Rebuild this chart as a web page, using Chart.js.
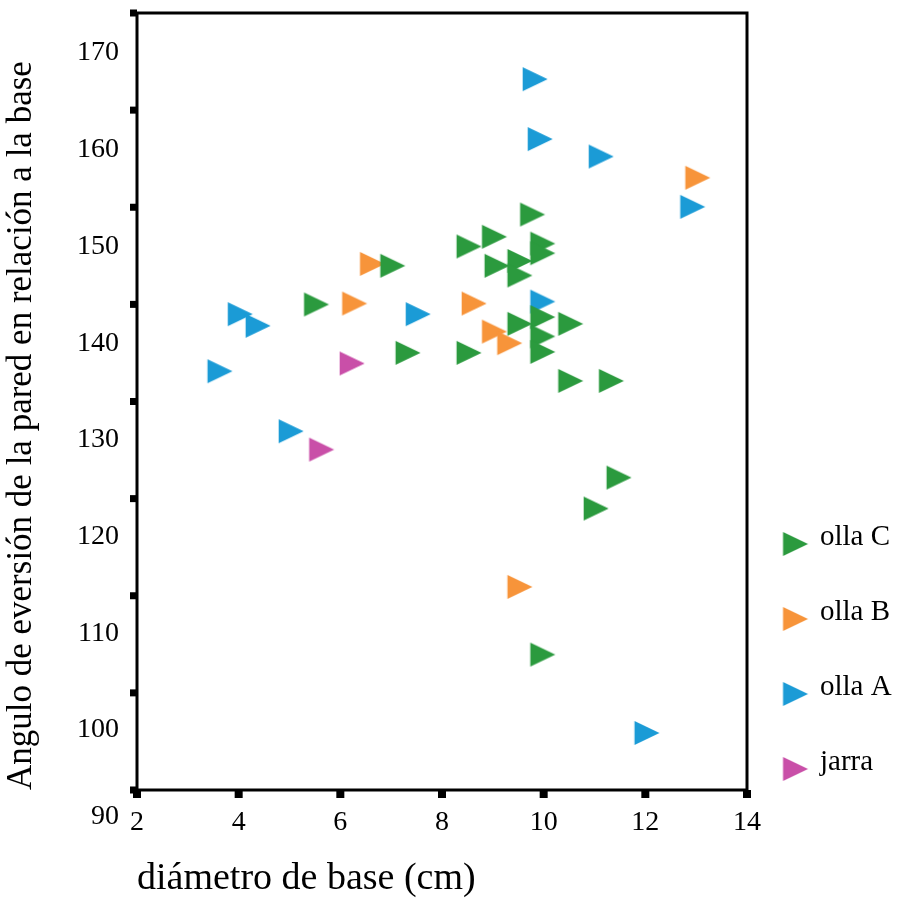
<!DOCTYPE html>
<html>
<head>
<meta charset="utf-8">
<script src="https://cdn.jsdelivr.net/npm/chart.js@4.4.1/dist/chart.umd.min.js"></script>
<style>
  html, body { margin: 0; padding: 0; background: #fff; }
  canvas { display: block; }
</style>
</head>
<body>
<canvas id="scatter" width="901" height="909"></canvas>
<script>
// vessel types, in legend order
const categories = ["olla C", "olla B", "olla A", "jarra"];
const colors = ["#2b9a3e", "#f7943a", "#1b9bd6", "#c94fa8"];

// base diameter (cm) / wall eversion angle (deg)
const ollaCDiam  = [5.45, 6.95, 7.25, 8.45, 8.95, 9.0, 9.45, 9.45, 9.7, 9.9, 9.9, 8.45, 9.45, 9.9, 10.45, 9.9, 9.9, 10.45, 11.25, 11.4, 10.95, 9.9];
const ollaCAngle = [144, 148, 139, 150, 151, 148, 148.5, 147, 153.3, 150.3, 149.3, 139, 142, 142.7, 142, 140.7, 139.1, 136.1, 136.1, 126.1, 122.9, 107.8];

const ollaBDiam  = [6.55, 6.2, 8.55, 8.95, 9.25, 9.45, 12.95];
const ollaBAngle = [148.2, 144.1, 144.1, 141.2, 140, 114.8, 157.1];

const ollaADiam  = [3.95, 4.3, 3.55, 4.95, 7.45, 9.9, 9.75, 9.85, 11.05, 12.85, 11.95];
const ollaAAngle = [143, 141.8, 137.1, 130.9, 143, 144.3, 167.3, 161.1, 159.3, 154.1, 99.7];

const jarraDiam  = [6.15, 5.55];
const jarraAngle = [137.9, 129];

const xTicks = [2, 4, 6, 8, 10, 12, 14];
const yTicks = [100, 110, 120, 130, 140, 150, 160, 170];

const serif = "'Liberation Serif', 'Times New Roman', serif";

// right-pointing triangle, centroid at the middle of the canvas
const TRI_W = 25, TRI_H = 24;
function triangleMarker(color) {
  const c = document.createElement("canvas");
  c.width = 36;
  c.height = 26;
  const g = c.getContext("2d");
  const left = c.width / 2 - TRI_W / 3;
  g.fillStyle = color;
  g.beginPath();
  g.moveTo(left, 1);
  g.lineTo(left + TRI_W, 1 + TRI_H / 2);
  g.lineTo(left, 1 + TRI_H);
  g.closePath();
  g.fill();
  return c;
}

function toPoints(xs, ys) {
  return xs.map((x, i) => ({ x: x, y: ys[i] }));
}

const series = [
  toPoints(ollaCDiam, ollaCAngle),
  toPoints(ollaBDiam, ollaBAngle),
  toPoints(ollaADiam, ollaAAngle),
  toPoints(jarraDiam, jarraAngle)
];

const datasets = categories.map((name, i) => {
  const marker = triangleMarker(colors[i]);
  return {
    label: name,
    data: series[i],
    pointStyle: marker,
    pointRadius: 12,
    pointHoverRadius: 12,
    backgroundColor: colors[i],
    borderColor: colors[i]
  };
});

// box round the plot, square tick nubs, corner "90" and the legend
const framePlugin = {
  id: "frame",
  afterDraw(chart) {
    const { ctx, chartArea: a, scales } = chart;
    ctx.save();
    ctx.strokeStyle = "#000";
    ctx.lineWidth = 3;
    ctx.strokeRect(a.left, a.top, a.right - a.left, a.bottom - a.top);

    ctx.fillStyle = "#000";
    scales.x.ticks.forEach(t => {
      const px = scales.x.getPixelForValue(t.value);
      ctx.fillRect(px - 4, a.bottom, 8, 8);
    });
    const y = scales.y;
    for (let k = 0; k <= 8; k++) {
      const py = y.getPixelForValue(y.min + k * (y.max - y.min) / 8);
      ctx.fillRect(a.left - 7, py - 3.5, 7, 7);
    }

    ctx.font = "28px " + serif;
    ctx.textAlign = "right";
    ctx.textBaseline = "middle";
    ctx.fillText("90", a.left - 18, a.bottom + 27);

    // legend
    ctx.font = "29px " + serif;
    ctx.textAlign = "left";
    ctx.textBaseline = "alphabetic";
    chart.data.datasets.forEach((ds, i) => {
      const cy = a.bottom - 246 + i * 75;
      const img = ds.pointStyle;
      const triLeft = a.right + 36;
      ctx.drawImage(img, triLeft - (img.width / 2 - TRI_W / 3), cy - img.height / 2);
      ctx.fillText(ds.label, a.right + 73, cy + 1);
    });
    ctx.restore();
  }
};

Chart.defaults.color = "#000";

new Chart(document.getElementById("scatter"), {
  type: "scatter",
  data: { datasets: datasets },
  options: {
    responsive: false,
    animation: false,
    layout: { padding: { top: 13, right: 154, bottom: 0, left: 0 } },
    plugins: {
      legend: { display: false },
      tooltip: { enabled: false }
    },
    scales: {
      x: {
        type: "linear",
        min: 2,
        max: 14,
        afterBuildTicks: s => { s.ticks = xTicks.map(v => ({ value: v })); },
        afterFit: s => { s.height = 119; },
        grid: { display: false, drawTicks: false },
        border: { display: false },
        ticks: {
          font: { family: serif, size: 28 },
          padding: 16,
          maxRotation: 0,
          autoSkip: false,
          color: "#000"
        },
        title: {
          display: true,
          text: "diámetro de base (cm)",
          align: "start",
          color: "#000",
          font: { family: serif, size: 38 },
          padding: { top: 0, bottom: 7 }
        }
      },
      y: {
        type: "linear",
        min: 93.8,
        max: 174.14,
        afterBuildTicks: s => { s.ticks = yTicks.map(v => ({ value: v })); },
        afterFit: s => {
          s.width = 137;
          s.paddingTop = 0;
          s.paddingBottom = 0;
        },
        grid: { display: false, drawTicks: false },
        border: { display: false },
        ticks: {
          font: { family: serif, size: 28 },
          padding: 18,
          autoSkip: false,
          color: "#000"
        },
        title: {
          display: true,
          text: "Angulo de eversión de la pared en relación a la base",
          align: "start",
          color: "#000",
          font: { family: serif, size: 35 },
          padding: { top: 1, bottom: 0 }
        }
      }
    }
  },
  plugins: [framePlugin]
});
</script>
</body>
</html>
